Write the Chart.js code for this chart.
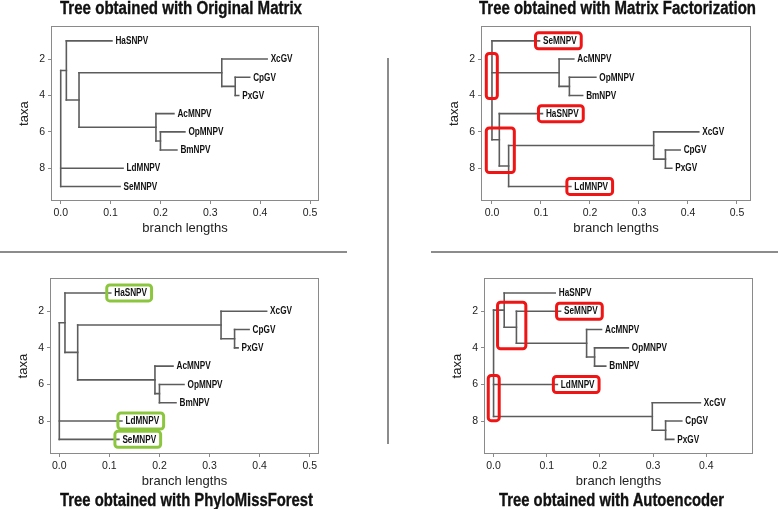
<!DOCTYPE html>
<html><head><meta charset="utf-8">
<script src="https://cdn.jsdelivr.net/npm/chart.js@4"></script>
<style>
html,body{margin:0;padding:0;background:#fff;}
#root{position:relative;width:778px;height:509px;overflow:hidden;background:#fff;}
#root canvas{position:absolute;}
.title{position:absolute;white-space:nowrap;font-family:"Liberation Sans",Arial,sans-serif;font-weight:bold;font-size:17.5px;line-height:18px;color:#111;transform-origin:0 0;-webkit-text-stroke:0.35px #111;}
.rule{position:absolute;background:#8c8c8c;}
</style></head><body><div id="root">
<div class="rule" style="left:0;top:251px;width:347px;height:2px"></div>
<div class="rule" style="left:431px;top:251px;width:347px;height:2px"></div>
<div class="rule" style="left:387px;top:58px;width:2px;height:386px"></div>
</div>
<script>
// ---------- data ----------
const xTicksWide = [0, 0.1, 0.2, 0.3, 0.4, 0.5];
const xTicksNarrow = [0, 0.1, 0.2, 0.3, 0.4];
const yTicks = [2, 4, 6, 8];

// Tree: Original Matrix (also PhyloMissForest) - preorder nodes
const omNames   = ['', '', 'HaSNPV', '', '', 'XcGV', '', 'CpGV', 'PxGV', '', 'AcMNPV', '', 'OpMNPV', 'BmNPV', 'LdMNPV', 'SeMNPV'];
const omParents = [-1, 0, 1, 1, 3, 4, 4, 6, 6, 3, 9, 9, 11, 11, 0, 0];
const omDepths  = [0, 0.0113, 0.1027, 0.0367, 0.323, 0.414, 0.350, 0.379, 0.357, 0.191, 0.227, 0.200, 0.249, 0.233, 0.125, 0.119];

// Tree: Matrix Factorization
const mfNames   = ['', 'SeMNPV', '', 'AcMNPV', '', 'OpMNPV', 'BmNPV', '', 'HaSNPV', '', '', 'XcGV', '', 'CpGV', 'PxGV', 'LdMNPV'];
const mfParents = [-1, 0, 0, 2, 2, 4, 4, 0, 7, 7, 9, 10, 10, 12, 12, 9];
const mfDepths  = [0, 0.097, 0.137, 0.167, 0.158, 0.212, 0.185, 0.015, 0.103, 0.034, 0.330, 0.422, 0.354, 0.384, 0.367, 0.161];

// Tree: Autoencoder
const aeNames   = ['', '', 'HaSNPV', '', 'SeMNPV', '', 'AcMNPV', '', 'OpMNPV', 'BmNPV', 'LdMNPV', '', 'XcGV', '', 'CpGV', 'PxGV'];
const aeParents = [-1, 0, 1, 1, 3, 3, 5, 5, 7, 7, 0, 0, 11, 11, 13, 13];
const aeDepths  = [0, 0.020, 0.116, 0.043, 0.126, 0.175, 0.203, 0.190, 0.2535, 0.211, 0.120, 0.2986, 0.389, 0.3236, 0.354, 0.339];

// highlighted taxa labels
const mfMarkedTaxa  = ['SeMNPV', 'HaSNPV', 'LdMNPV'];
const pmfMarkedTaxa = ['HaSNPV', 'LdMNPV', 'SeMNPV'];
const aeMarkedTaxa  = ['SeMNPV', 'LdMNPV'];
// highlighted node regions [x0, x1, y0, y1] in axis units
const mfMarkedNodes = [[-0.0116, 0.0109, 1.69, 4.17], [-0.0116, 0.0456, 5.79, 8.24]];
const aeMarkedNodes = [[0.0075, 0.0607, 1.51, 4.05], [-0.010, 0.0106, 5.51, 7.98]];

// ---------- drawing ----------
const root = document.getElementById('root');
const LINE = '#5c5c5c';
const RED = '#f01414';
const GREEN = '#8cc63f';

function layoutTree(names, parents) {
  const n = names.length;
  const kids = names.map(() => []);
  parents.forEach((p, i) => { if (p >= 0) kids[p].push(i); });
  const y = new Array(n);
  let leaf = 0;
  for (let i = 0; i < n; i++) if (!kids[i].length) y[i] = ++leaf;
  for (let i = n - 1; i >= 0; i--) if (kids[i].length) { const c = kids[i]; y[i] = (y[c[0]] + y[c[c.length - 1]]) / 2; }
  return { kids, y };
}

function makeTree(cfg) {
  const { names, parents, depths } = cfg;
  const { kids, y } = layoutTree(names, parents);
  const datasets = [];
  const seg = (x0, y0, x1, y1) => datasets.push({
    data: [{ x: x0, y: y0 }, { x: x1, y: y1 }], showLine: true, borderColor: LINE,
    borderWidth: 1.6, pointRadius: 0, pointHoverRadius: 0, borderCapStyle: 'square', fill: false
  });
  for (let i = 0; i < names.length; i++) {
    if (parents[i] >= 0) seg(depths[parents[i]], y[i], depths[i], y[i]);
    if (kids[i].length) { const c = kids[i]; seg(depths[i], y[c[0]], depths[i], y[c[c.length - 1]]); }
  }
  const [L, T, W, H] = cfg.box;
  const cv = document.createElement('canvas');
  const cw = W + 60, ch = H + 8 + 39;
  cv.width = cw; cv.height = ch;
  cv.style.left = (L - 50) + 'px'; cv.style.top = (T - 8) + 'px';
  cv.style.width = cw + 'px'; cv.style.height = ch + 'px';
  root.appendChild(cv);

  const tickFont = { family: '"Liberation Sans", Arial, sans-serif', size: 10.5 };
  const titleFont = { family: '"Liberation Sans", Arial, sans-serif', size: 13 };
  const treePlugin = {
    id: 'treeDecor',
    afterDatasetsDraw(chart) {
      const ctx = chart.ctx, xs = chart.scales.x, ys = chart.scales.y;
      ctx.save();
      ctx.font = 'bold 10px "Liberation Sans", Arial, sans-serif';
      ctx.textBaseline = 'middle';
      ctx.fillStyle = '#111';
      const SX = 0.82;
      for (let i = 0; i < names.length; i++) {
        if (kids[i].length) continue;
        const px = xs.getPixelForValue(depths[i]) + 3.5, py = ys.getPixelForValue(y[i]);
        const tw = ctx.measureText(names[i]).width * SX;
        if (cfg.marked.includes(names[i])) {
          ctx.save();
          ctx.strokeStyle = cfg.markColor; ctx.lineWidth = 3;
          ctx.beginPath();
          ctx.roundRect(px - 7.5, py - 8, tw + 12, 16, 3);
          ctx.stroke();
          ctx.restore();
        }
        ctx.save();
        ctx.translate(px, py + 0.5);
        ctx.scale(SX, 1);
        ctx.fillText(names[i], 0, 0);
        ctx.restore();
      }
      for (const [x0, x1, y0, y1] of cfg.nodeMarks) {
        const a = xs.getPixelForValue(x0), b = xs.getPixelForValue(x1);
        const c = ys.getPixelForValue(y0), d = ys.getPixelForValue(y1);
        ctx.strokeStyle = RED; ctx.lineWidth = 3;
        ctx.beginPath();
        ctx.roundRect(a, c, b - a, d - c, 3);
        ctx.stroke();
      }
      ctx.restore();
    },
    afterDraw(chart) {
      const a = chart.chartArea, ctx = chart.ctx;
      ctx.save();
      ctx.strokeStyle = '#8a8a8a'; ctx.lineWidth = 1;
      ctx.strokeRect(Math.round(a.left) + 0.5, Math.round(a.top) + 0.5, Math.round(a.right - a.left) - 1, Math.round(a.bottom - a.top) - 1);
      ctx.restore();
    }
  };

  new Chart(cv, {
    type: 'scatter',
    data: { datasets },
    options: {
      responsive: false, animation: false, events: [],
      layout: { padding: { top: 8, right: 10, left: 0, bottom: 0 } },
      plugins: { legend: { display: false }, tooltip: { enabled: false } },
      scales: {
        x: {
          type: 'linear', min: cfg.xMin, max: cfg.xMax,
          afterBuildTicks: s => { s.ticks = cfg.xTicks.map(v => ({ value: v })); },
          afterFit: s => { s.height = 39; },
          ticks: { callback: v => Number(v).toFixed(1), font: tickFont, color: '#222', padding: 3, maxRotation: 0, autoSkip: false },
          grid: { display: true, drawOnChartArea: false, drawTicks: true, tickLength: 3, color: '#8a8a8a' },
          border: { display: false },
          title: { display: true, text: 'branch lengths', font: titleFont, color: '#222', padding: { top: 0, bottom: 4 } }
        },
        y: {
          type: 'linear', reverse: true, min: 0.2, max: 9.8,
          afterBuildTicks: s => { s.ticks = yTicks.map(v => ({ value: v })); },
          afterFit: s => { s.width = 50; },
          ticks: { callback: v => String(v), font: tickFont, color: '#222', padding: 3, autoSkip: false },
          grid: { display: true, drawOnChartArea: false, drawTicks: true, tickLength: 3, color: '#8a8a8a' },
          border: { display: false },
          title: { display: true, text: 'taxa', font: titleFont, color: '#222', padding: { top: 16, bottom: 0 } }
        }
      }
    },
    plugins: [treePlugin]
  });
}

function addTitle(text, cx, top, targetW) {
  const d = document.createElement('div');
  d.className = 'title'; d.textContent = text;
  root.appendChild(d);
  const w = d.getBoundingClientRect().width;
  const s = targetW / w;
  d.style.left = (cx - targetW / 2) + 'px';
  d.style.top = top + 'px';
  d.style.transform = 'scaleX(' + s + ')';
}

makeTree({ names: omNames, parents: omParents, depths: omDepths, box: [51, 25, 268, 176],
  xMin: -0.0195, xMax: 0.518, xTicks: xTicksWide, marked: [], markColor: RED, nodeMarks: [] });
makeTree({ names: mfNames, parents: mfParents, depths: mfDepths, box: [481, 25, 270, 176],
  xMin: -0.0224, xMax: 0.5286, xTicks: xTicksWide, marked: mfMarkedTaxa, markColor: RED, nodeMarks: mfMarkedNodes });
makeTree({ names: omNames, parents: omParents, depths: omDepths, box: [50, 277, 269, 177],
  xMin: -0.0186, xMax: 0.5186, xTicks: xTicksWide, marked: pmfMarkedTaxa, markColor: GREEN, nodeMarks: [] });
makeTree({ names: aeNames, parents: aeParents, depths: aeDepths, box: [484, 277, 269, 177],
  xMin: -0.018, xMax: 0.488, xTicks: xTicksNarrow, marked: aeMarkedTaxa, markColor: RED, nodeMarks: aeMarkedNodes });

addTitle('Tree obtained with Original Matrix', 181, -1, 242);
addTitle('Tree obtained with Matrix Factorization', 617.3, -1, 277);
addTitle('Tree obtained with PhyloMissForest', 186.5, 490.5, 253);
addTitle('Tree obtained with Autoencoder', 611.5, 490.5, 225);
</script>
</body></html>
